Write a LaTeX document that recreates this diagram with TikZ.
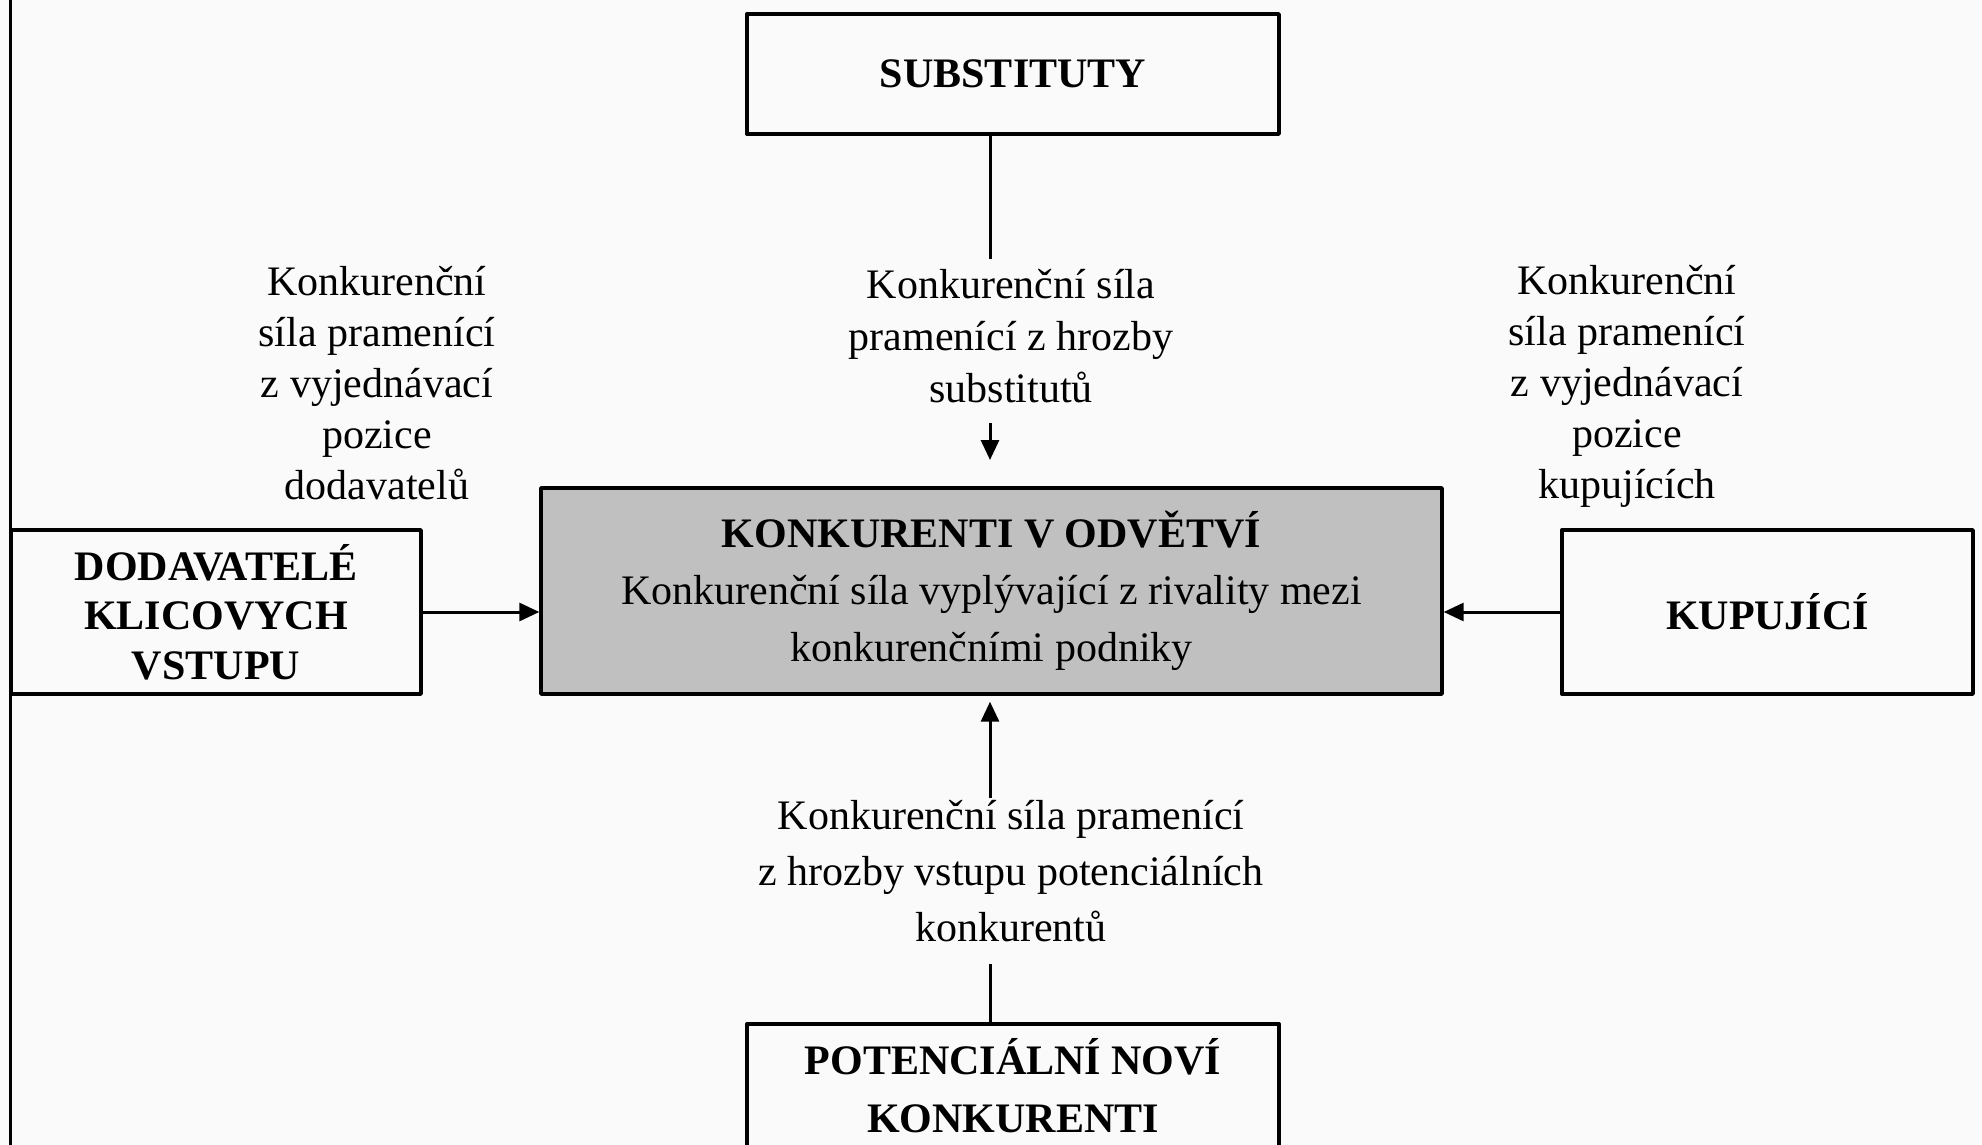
\documentclass[tikz,border=0pt]{standalone}
\usepackage{fontspec}
\setmainfont{Liberation Serif}
\usetikzlibrary{arrows.meta}
\definecolor{shade}{RGB}{192,192,192}
\definecolor{paper}{RGB}{250,250,250}
\begin{document}
\begin{tikzpicture}[x=0.5pt, y=-0.5pt, line join=round, font=\fontsize{21}{25.5}\selectfont, >={Triangle[length=10pt,width=9pt]},
    box/.style={draw, line width=1.7pt, align=center, inner sep=0pt, minimum width=266pt, font=\fontsize{21}{24.75}\selectfont\bfseries},
    txt/.style={align=center, inner sep=1pt},
    arr/.style={->, line width=1.5pt}]
  \def\ax{990}
  \fill[paper] (0,0) rectangle (1982,1145);
  \useasboundingbox (0,0) rectangle (1982,1145);
  \draw[line width=1.5pt] (10,0)--(10,1145);
  \coordinate (ax) at (\ax,0);
  % boxes
  \node[box, minimum height=60pt] (subst) at (1013,74) {SUBSTITUTY};
  \node[box, fill=shade, minimum width=450.5pt, minimum height=103pt, font=\fontsize{21}{28.5}\selectfont] (konk) at (991.5,591)
    {\textbf{KONKURENTI V ODVĚTVÍ}\\Konkurenční síla vyplývající z rivality mezi\\konkurenčními podniky};
  \node[box, minimum width=205pt, minimum height=82pt] (dod) at (216,612) {DODAVATELÉ\\KLICOVYCH\\VSTUPU};
  \node[box, minimum width=205.5pt, minimum height=82pt] (kup) at (1767.5,612) {KUPUJÍCÍ};
  \node[box, minimum height=62pt, font=\fontsize{21}{29}\selectfont\bfseries] (novi) at (1013,1086) {POTENCIÁLNÍ NOVÍ\\KONKURENTI};
  % labels
  \node[txt] (labD) at (377,383) {Konkurenční\\síla pramenící\\z vyjednávací\\pozice\\dodavatelů};
  \node[txt] (labK) at (1627,386) {Konkurenční\\síla pramenící\\z vyjednávací\\pozice\\kupujících};
  \node[txt, font=\fontsize{21}{26}\selectfont] (labS) at (1011,336) {Konkurenční síla\\pramenící z hrozby\\substitutů};
  \node[txt, font=\fontsize{21}{28}\selectfont] (labN) at (1011,871) {Konkurenční síla pramenící\\z hrozby vstupu potenciálních\\konkurentů};
  \coordinate (tipS) at (\ax,460);
  % connectors
  \draw[line width=1.5pt, shorten >=4pt] (subst.south -| ax) -- (labS.north -| ax);
  \draw[arr, shorten <=9pt] (labS.south -| ax) -- (tipS);
  \draw[line width=1.5pt, shorten >=10pt] (novi.north -| ax) -- (labN.south -| ax);
  \draw[arr, shorten >=3pt] (labN.north -| ax) -- (konk.south -| ax);
  \draw[arr] (dod.east) -- (dod.east -| konk.west);
  \draw[arr] (kup.west) -- (kup.west -| konk.east);
\end{tikzpicture}
\end{document}
